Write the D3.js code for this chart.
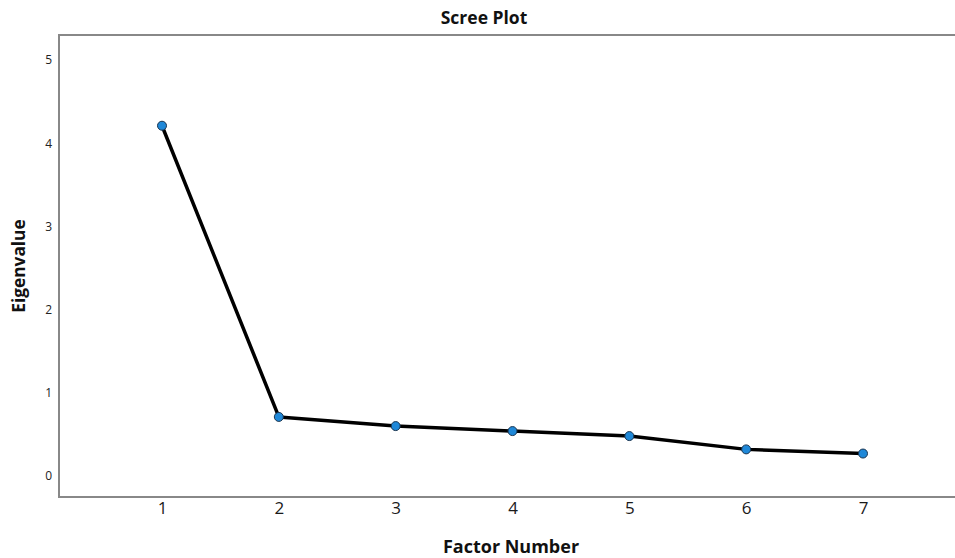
<!DOCTYPE html>
<html lang="en">
<head>
  <meta charset="UTF-8">
  <title>Scree Plot</title>
  <script src="https://d3js.org/d3.v7.min.js"></script>
  <style>
    body { margin: 0; background: #fff; }
    text { font-family: "Open Sans", "Noto Sans", sans-serif; }
  </style>
</head>
<body>
  <svg width="955" height="558"></svg>

  <script>
    const factors = [1, 2, 3, 4, 5, 6, 7];
    const eigenvalues = [4.21, 0.71, 0.60, 0.54, 0.48, 0.32, 0.27];
    const yTicks = [0, 1, 2, 3, 4, 5];

    const svg = d3.select("svg");
    const plotLeft = 59, plotTop = 35, plotBottom = 497, plotRight = 955;

    // x: 1 at 162, 7 at 863
    const x = d3.scaleLinear().domain([1, 7]).range([162, 863]);
    // y: 0 at 476, 5 at 60
    const y = d3.scaleLinear().domain([0, 5]).range([476, 60]);

    // frame (left, top, bottom)
    svg.append("path")
      .attr("d", `M${plotRight},${plotTop}H${plotLeft}V${plotBottom}H${plotRight}`)
      .attr("fill", "none")
      .attr("stroke", "#888")
      .attr("stroke-width", 2);

    // title
    svg.append("text")
      .attr("x", 484).attr("y", 24)
      .attr("text-anchor", "middle")
      .attr("font-size", 17.5).attr("font-weight", "bold")
      .attr("fill", "#111")
      .text("Scree Plot");

    // y ticks
    const yAxis = d3.axisLeft(y).tickValues(yTicks).tickSize(0).tickPadding(0)
      .tickFormat(d3.format("d"));
    svg.append("g")
      .attr("transform", `translate(${plotLeft - 7},0)`)
      .call(yAxis)
      .call(g => g.select(".domain").remove())
      .call(g => g.selectAll("text").attr("font-size", 12).attr("fill", "#222")
        .attr("font-family", "'Open Sans', sans-serif"));

    // x ticks
    const xAxis = d3.axisBottom(x).tickValues(factors).tickSize(0).tickPadding(0)
      .tickFormat(d3.format("d"));
    svg.append("g")
      .attr("transform", `translate(0,${plotBottom + 5})`)
      .call(xAxis)
      .call(g => g.select(".domain").remove())
      .call(g => g.selectAll("text").attr("font-size", 17).attr("fill", "#1a1a1a")
        .attr("font-family", "'Open Sans', sans-serif"));

    // axis titles
    svg.append("text")
      .attr("transform", "translate(25,266) rotate(-90)")
      .attr("text-anchor", "middle")
      .attr("font-size", 17.3).attr("font-weight", "bold")
      .attr("fill", "#111")
      .text("Eigenvalue");

    svg.append("text")
      .attr("x", 511).attr("y", 553)
      .attr("text-anchor", "middle")
      .attr("font-size", 18).attr("font-weight", "bold")
      .attr("fill", "#111")
      .text("Factor Number");

    const data = factors.map((f, i) => ({ f, v: eigenvalues[i] }));

    svg.append("path")
      .datum(data)
      .attr("fill", "none")
      .attr("stroke", "#000")
      .attr("stroke-width", 3.5)
      .attr("stroke-linejoin", "round")
      .attr("d", d3.line().x(d => x(d.f)).y(d => y(d.v)));

    svg.selectAll(".dot")
      .data(data)
      .enter()
      .append("circle")
      .attr("class", "dot")
      .attr("cx", d => x(d.f))
      .attr("cy", d => y(d.v))
      .attr("r", 4.5)
      .attr("fill", "#1f88d8")
      .attr("stroke", "#1a3550")
      .attr("stroke-width", 1);
  </script>
</body>
</html>
